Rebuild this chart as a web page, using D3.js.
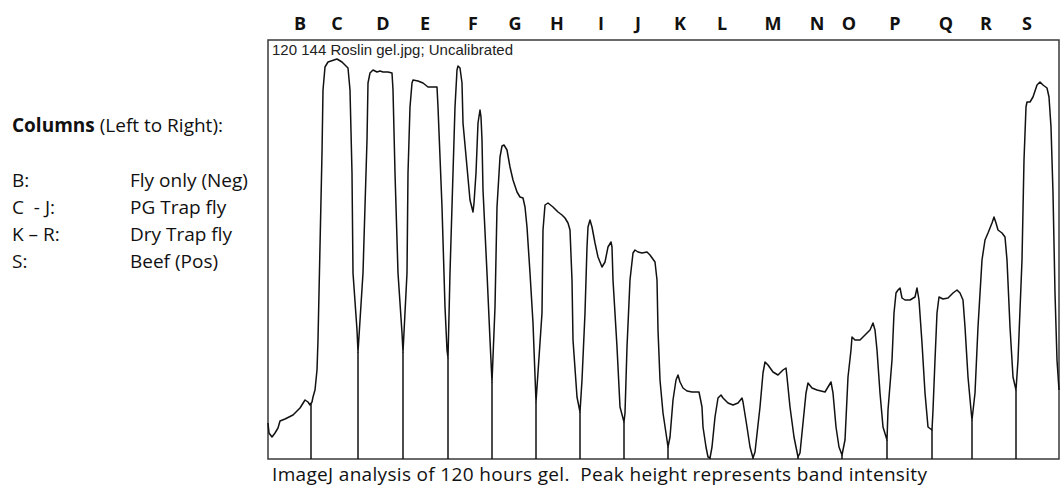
<!DOCTYPE html>
<html>
<head>
<meta charset="utf-8">
<script src="https://cdn.jsdelivr.net/npm/d3@7"></script>
<style>
  body { margin: 0; background: #fff; }
  svg { display: block; }
</style>
</head>
<body>
<svg id="profile" width="1060" height="490"></svg>
<script>
// lane letters and where they sit along the profile (px distance)
let laneLabels = ["B", "C", "D", "E", "F", "G", "H", "I", "J", "K", "L", "M", "N", "O", "P", "Q", "R", "S"]
let laneLabelPos = [32, 69, 115, 157, 205, 247, 289, 333, 370, 412, 454, 505, 549, 581, 627, 678, 718, 759]

// lane boundaries (valleys) drawn by ImageJ
let dividers = [43, 90, 135, 180, 224, 268, 312, 356, 400, 442, 485, 530, 574, 619, 664, 704, 748]

// plot profile: distance, gray value
let profileDist = [
  0, 1, 4, 7, 10, 12, 17, 25, 32, 37, 40, 42, 44, 45, 47, 49, 50,
  54, 55, 57, 60, 69, 74, 80, 82, 84, 85, 89, 90,
  95, 99, 100, 102, 105, 109, 112, 115, 120, 124, 125, 127, 130, 134, 135,
  139, 140, 142, 144, 145, 150, 155, 160, 165, 169, 170, 174, 177, 179, 180,
  182, 185, 187, 189, 190, 192, 194, 195, 199, 202, 205, 206, 208, 210, 212, 213, 214, 215, 219, 222, 224,
  227, 229, 232, 234, 236, 239, 242, 245, 249, 252, 255, 257, 259, 262, 265, 268,
  274, 275, 277, 280, 285, 290, 294, 297, 300, 302, 304, 305, 309, 312,
  314, 317, 319, 320, 322, 324, 327, 330, 334, 337, 340, 343, 344, 345, 349, 352, 356,
  357, 359, 362, 365, 367, 370, 374, 379, 382, 387, 389, 390, 392, 395, 399, 400,
  402, 405, 408, 410, 412, 415, 419, 424, 431, 434, 435, 438, 440, 442, 444,
  447, 450, 453, 455, 460, 465, 470, 474, 475, 479, 482, 485, 487,
  492, 495, 497, 500, 505, 510, 515, 518, 519, 522, 526, 530, 532,
  535, 538, 540, 544, 549, 557, 560, 563, 565, 568, 571, 574, 577,
  580, 583, 584, 587, 592, 597, 602, 605, 607, 609, 612, 615, 619,
  620, 624, 626, 628, 630, 632, 634, 637, 642, 647, 649, 651, 654, 657, 660, 664,
  665, 667, 669, 671, 675, 680, 685, 689, 692, 695, 697, 700, 703, 704,
  707, 710, 714, 717, 720, 724, 726, 728, 730, 734, 737, 739, 742, 745, 748,
  750, 754, 756, 758, 759, 762, 765, 769, 772, 775, 779, 781, 783, 785, 787, 789, 791
]
let profileValue = [
  36, 26, 22, 26, 31, 38, 40, 44, 51, 59, 57, 54, 57, 62, 69, 89, 119,
  306, 369, 392, 397, 400, 397, 391, 369, 286, 186, 129, 107,
  186, 319, 376, 386, 389, 387, 388, 387, 387, 386, 369, 286, 186, 126, 107,
  186, 286, 352, 376, 379, 378, 376, 372, 372, 372, 352, 252, 152, 109, 101,
  186, 286, 352, 389, 393, 391, 376, 336, 292, 259, 247, 256, 286, 336, 349, 342, 319, 269, 186, 119, 77,
  152, 252, 302, 313, 314, 309, 292, 279, 267, 262, 261, 252, 232, 186, 136, 57,
  146, 229, 254, 256, 252, 247, 244, 241, 236, 229, 179, 119, 62, 47,
  79, 146, 212, 232, 239, 232, 216, 202, 192, 197, 212, 217, 212, 179, 112, 52, 37,
  46, 112, 179, 206, 209, 207, 206, 207, 204, 197, 179, 129, 79, 46, 19, 12,
  22, 59, 79, 84, 77, 71, 68, 67, 67, 52, 32, 12, 2, 1, 12,
  42, 61, 64, 61, 56, 54, 56, 61, 57, 32, 12, 1, 7,
  52, 86, 97, 94, 87, 84, 89, 91, 82, 52, 22, 2, 6,
  36, 66, 76, 71, 69, 67, 72, 77, 66, 32, 12, 4, 19,
  82, 109, 122, 119, 119, 124, 129, 136, 129, 109, 66, 32, 19,
  49, 99, 146, 166, 169, 171, 161, 159, 159, 162, 171, 159, 116, 66, 32, 29,
  49, 99, 146, 162, 160, 161, 166, 169, 166, 159, 132, 82, 49, 39,
  66, 132, 199, 219, 226, 236, 242, 236, 229, 226, 222, 199, 132, 82, 69,
  99, 199, 299, 352, 357, 357, 362, 374, 377, 374, 371, 362, 332, 266, 166, 99, 69
]

let legendKeys = ["B:", "C  - J:", "K – R:", "S:"]
let legendDescs = ["Fly only (Neg)", "PG Trap fly", "Dry Trap fly", "Beef (Pos)"]

let profile = profileDist.map((d, i) => ({ dist: d, value: profileValue[i] }))

let box = { left: 268, right: 1059, top: 40, bottom: 459 }
let svg = d3.select("#profile")

let x = d3.scaleLinear()
    .domain([0, 791])
    .range([box.left, box.right])

let y = d3.scaleLinear()
    .domain([0, 419])
    .range([box.bottom, box.top])

// value of the profile at any distance, for the divider tops
let bisect = d3.bisector(d => d.dist).left
function valueAt(dist) {
  let i = bisect(profile, dist)
  if (i <= 0) return profile[0].value
  if (i >= profile.length) return profile[profile.length - 1].value
  let a = profile[i - 1], b = profile[i]
  let t = (dist - a.dist) / (b.dist - a.dist)
  return a.value + t * (b.value - a.value)
}

let textFont = "'Open Sans', sans-serif"

svg.append("rect")
    .attr("x", 0).attr("y", 0)
    .attr("width", 1060).attr("height", 490)
    .style("fill", "#fff")

// plot frame
svg.append("rect")
    .attr("x", box.left)
    .attr("y", box.top)
    .attr("width", box.right - box.left)
    .attr("height", box.bottom - box.top)
    .style("fill", "none")
    .style("stroke", "#3a3a3a")
    .style("stroke-width", 1.5)

svg.append("text")
    .attr("x", box.left + 4)
    .attr("y", box.top + 15)
    .style("font-family", "'Liberation Sans', Arial, sans-serif")
    .style("font-size", "15px")
    .style("fill", "#222")
    .text("120 144 Roslin gel.jpg; Uncalibrated")

svg.append("g")
    .attr("id", "dividers")
    .selectAll("line")
    .data(dividers)
    .join("line")
    .attr("x1", d => x(d))
    .attr("x2", d => x(d))
    .attr("y1", d => y(valueAt(d)))
    .attr("y2", y(0))
    .style("stroke", "#111")
    .style("stroke-width", 1.5)

let line = d3.line()
    .x(d => x(d.dist))
    .y(d => y(d.value))

svg.append("path")
    .datum(profile)
    .attr("d", line)
    .style("fill", "none")
    .style("stroke", "#111")
    .style("stroke-width", 1.5)
    .style("stroke-linejoin", "round")

svg.append("g")
    .attr("id", "lanes")
    .selectAll("text")
    .data(laneLabels)
    .join("text")
    .attr("x", (d, i) => x(laneLabelPos[i]))
    .attr("y", 30)
    .attr("text-anchor", "middle")
    .style("font-family", textFont)
    .style("font-size", "18px")
    .style("font-weight", "bold")
    .style("fill", "#111")
    .text(d => d)

let legendTitle = svg.append("text")
    .attr("x", 12)
    .attr("y", 132)
    .style("font-family", textFont)
    .style("font-size", "19px")
    .style("fill", "#111")
legendTitle.append("tspan").style("font-weight", "bold").text("Columns")
legendTitle.append("tspan").text(" (Left to Right):")

let legend = svg.append("g").attr("id", "legend")
legend.selectAll("text.key")
    .data(legendKeys)
    .join("text")
    .attr("class", "key")
    .attr("x", 12)
    .attr("y", (d, i) => 187 + i * 27)
    .style("font-family", textFont)
    .style("font-size", "19px")
    .style("fill", "#111")
    .style("white-space", "pre")
    .text(d => d)

legend.selectAll("text.desc")
    .data(legendDescs)
    .join("text")
    .attr("class", "desc")
    .attr("x", 130)
    .attr("y", (d, i) => 187 + i * 27)
    .style("font-family", textFont)
    .style("font-size", "19px")
    .style("fill", "#111")
    .text(d => d)

svg.append("text")
    .attr("x", 272)
    .attr("y", 481)
    .attr("textLength", 655)
    .attr("lengthAdjust", "spacing")
    .style("font-family", textFont)
    .style("font-size", "19px")
    .style("fill", "#111")
    .style("white-space", "pre")
    .text("ImageJ analysis of 120 hours gel.  Peak height represents band intensity")
</script>
</body>
</html>
